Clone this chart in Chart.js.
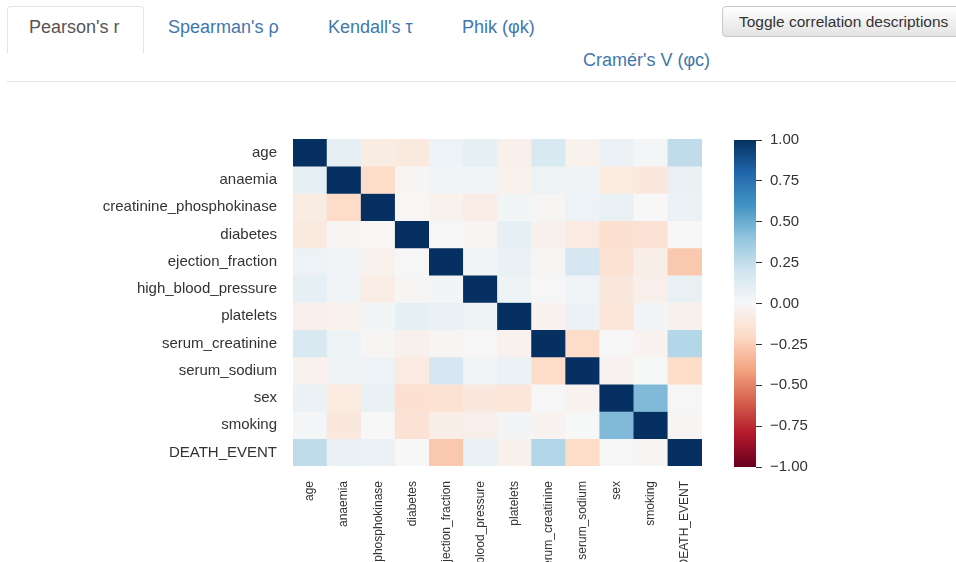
<!DOCTYPE html>
<html>
<head>
<meta charset="utf-8">
<script src="https://cdn.jsdelivr.net/npm/chart.js@4/dist/chart.umd.min.js"></script>
<style>
  html, body { margin: 0; padding: 0; background: #fff; }
  body { width: 956px; height: 562px; overflow: hidden; position: relative;
         font-family: "Liberation Sans", Arial, Helvetica, sans-serif; }
  .tabline { position: absolute; left: 7px; right: 0; top: 81px; border-top: 1px solid #e2e2e2; }
  .tab-active { position: absolute; left: 7px; top: 6px; width: 135px; height: 46px;
                border: 1px solid #e4e4e4; border-bottom: none; border-radius: 4px 4px 0 0;
                background: #fff; }
  .tab { position: absolute; font-size: 18px; line-height: 20px; color: #3f77ad; white-space: nowrap; }
  .tab.on { color: #555; }
  .btn { position: absolute; left: 722px; top: 6px; width: 260px; height: 31px; box-sizing: border-box;
         border: 1px solid #c8c8c8; border-radius: 4px; padding: 6px 0 0 16px;
         background: linear-gradient(#ffffff, #e3e3e3); color: #333; font-size: 15.5px; white-space: nowrap; }
  #heat { position: absolute; left: 0; top: 0; }
  #bar { position: absolute; left: 700px; top: 0; }
</style>
</head>
<body>
<div class="tabline"></div>
<div class="tab-active"></div>
<div class="tab on" style="left:29px; top:17px;">Pearson's r</div>
<div class="tab" style="left:168px; top:17px;">Spearman's ρ</div>
<div class="tab" style="left:328px; top:17px;">Kendall's τ</div>
<div class="tab" style="left:462px; top:17px;">Phik (φk)</div>
<div class="tab" style="left:583px; top:50px;">Cramér's V (φc)</div>
<div class="btn">Toggle correlation descriptions</div>

<canvas id="heat" width="730" height="700"></canvas>
<canvas id="bar" width="256" height="562"></canvas>

<script>
// Variables of the heart failure records, same order on both axes
const variables = ['age', 'anaemia', 'creatinine_phosphokinase', 'diabetes', 'ejection_fraction',
  'high_blood_pressure', 'platelets', 'serum_creatinine', 'serum_sodium', 'sex', 'smoking', 'DEATH_EVENT'];

// Pearson correlation, one row per variable
const rowAge        = [ 1.000,  0.088, -0.082, -0.101,  0.060,  0.093, -0.052,  0.159, -0.046,  0.065,  0.019,  0.254];
const rowAnaemia    = [ 0.088,  1.000, -0.191, -0.013,  0.032,  0.038, -0.044,  0.052,  0.042, -0.095, -0.107,  0.066];
const rowCpk        = [-0.082, -0.191,  1.000, -0.010, -0.044, -0.071,  0.024, -0.016,  0.060,  0.080,  0.002,  0.063];
const rowDiabetes   = [-0.101, -0.013, -0.010,  1.000, -0.005, -0.013,  0.092, -0.047, -0.090, -0.158, -0.147, -0.002];
const rowEjection   = [ 0.060,  0.032, -0.044, -0.005,  1.000,  0.024,  0.072, -0.011,  0.176, -0.148, -0.067, -0.269];
const rowBloodPress = [ 0.093,  0.038, -0.071, -0.013,  0.024,  1.000,  0.050, -0.005,  0.037, -0.105, -0.056,  0.079];
const rowPlatelets  = [-0.052, -0.044,  0.024,  0.092,  0.072,  0.050,  1.000, -0.041,  0.062, -0.125,  0.028, -0.049];
const rowCreatinine = [ 0.159,  0.052, -0.016, -0.047, -0.011, -0.005, -0.041,  1.000, -0.189,  0.007, -0.027,  0.294];
const rowSodium     = [-0.046,  0.042,  0.060, -0.090,  0.176,  0.037,  0.062, -0.189,  1.000, -0.028,  0.005, -0.195];
const rowSex        = [ 0.065, -0.095,  0.080, -0.158, -0.148, -0.105, -0.125,  0.007, -0.028,  1.000,  0.446, -0.004];
const rowSmoking    = [ 0.019, -0.107,  0.002, -0.147, -0.067, -0.056,  0.028, -0.027,  0.005,  0.446,  1.000, -0.013];
const rowDeath      = [ 0.254,  0.066,  0.063, -0.002, -0.269,  0.079, -0.049,  0.294, -0.195, -0.004, -0.013,  1.000];

const matrix = [rowAge, rowAnaemia, rowCpk, rowDiabetes, rowEjection, rowBloodPress,
  rowPlatelets, rowCreatinine, rowSodium, rowSex, rowSmoking, rowDeath];

// Colour bar ticks
const barTicks = [-1, -0.75, -0.5, -0.25, 0, 0.25, 0.5, 0.75, 1];

// Diverging red-blue palette, from -1 to +1
const palette = ['#67001f', '#b2182b', '#d6604d', '#f4a582', '#fddbc7', '#f7f7f7',
  '#d1e5f0', '#92c5de', '#4393c3', '#2166ac', '#053061'];

function hexRgb(h) {
  return [parseInt(h.slice(1, 3), 16), parseInt(h.slice(3, 5), 16), parseInt(h.slice(5, 7), 16)];
}
function colorFor(v) {
  const t = Math.max(0, Math.min(1, (v + 1) / 2)) * (palette.length - 1);
  const i = Math.min(palette.length - 2, Math.floor(t));
  const f = t - i;
  const a = hexRgb(palette[i]), b = hexRgb(palette[i + 1]);
  const c = a.map((x, k) => Math.round(x + (b[k] - x) * f));
  return `rgb(${c[0]},${c[1]},${c[2]})`;
}

const fontFamily = '"Liberation Sans", Arial, Helvetica, sans-serif';
const labelFont = { family: fontFamily, size: 15 };
const textColor = '#333';

// Heatmap: each row is a stack segment of height 1 in every column
new Chart(document.getElementById('heat'), {
  type: 'bar',
  data: {
    labels: variables,
    datasets: matrix.map((row, i) => ({
      label: variables[i],
      data: variables.map(() => 1),
      backgroundColor: row.map(colorFor),
      borderWidth: 0,
      barPercentage: 1,
      categoryPercentage: 1,
      stack: 'cells'
    }))
  },
  options: {
    responsive: false,
    animation: false,
    devicePixelRatio: 1,
    layout: { padding: { top: 139, right: 28, left: 0, bottom: 0 } },
    plugins: { legend: { display: false }, tooltip: { enabled: false } },
    scales: {
      x: {
        stacked: true,
        grid: { display: false, drawTicks: false },
        border: { display: false },
        ticks: { minRotation: 90, maxRotation: 90, autoSkip: false, padding: 15,
                 font: { family: fontFamily, size: 12 }, color: textColor },
        afterFit: s => { s.height = 234; }
      },
      y: {
        stacked: true,
        reverse: true,
        min: 0,
        max: variables.length,
        grid: { display: false, drawTicks: false },
        border: { display: false },
        afterBuildTicks: s => { s.ticks = variables.map((_, i) => ({ value: i + 0.5 })); },
        ticks: { callback: (v, i) => variables[i], padding: 16, autoSkip: false,
                 font: labelFont, color: textColor },
        afterFit: s => { s.width = 293; }
      }
    }
  }
});

// Colour bar: one floating bar spanning the full value range with a gradient fill
new Chart(document.getElementById('bar'), {
  type: 'bar',
  data: {
    labels: ['r'],
    datasets: [{
      data: [[barTicks[0], barTicks[barTicks.length - 1]]],
      borderWidth: 0,
      barPercentage: 1,
      categoryPercentage: 1,
      backgroundColor: ctx => {
        const area = ctx.chart.chartArea;
        if (!area) return palette[5];
        const g = ctx.chart.ctx.createLinearGradient(0, area.bottom, 0, area.top);
        palette.forEach((c, i) => g.addColorStop(i / (palette.length - 1), c));
        return g;
      }
    }]
  },
  options: {
    responsive: false,
    animation: false,
    devicePixelRatio: 1,
    layout: { padding: { top: 140, bottom: 95, left: 34, right: 0 } },
    plugins: { legend: { display: false }, tooltip: { enabled: false } },
    scales: {
      x: { display: false },
      y: {
        position: 'right',
        min: barTicks[0],
        max: barTicks[barTicks.length - 1],
        afterBuildTicks: s => { s.ticks = barTicks.map(v => ({ value: v })); },
        grid: { display: true, drawOnChartArea: false, drawTicks: true, tickLength: 6, color: textColor },
        border: { display: false },
        ticks: {
          padding: 8,
          font: labelFont,
          color: textColor,
          callback: v => (v < 0 ? '\u2212' : '') + Math.abs(v).toFixed(2)
        },
        afterFit: s => { s.width = 200; }
      }
    }
  }
});
</script>
</body>
</html>
